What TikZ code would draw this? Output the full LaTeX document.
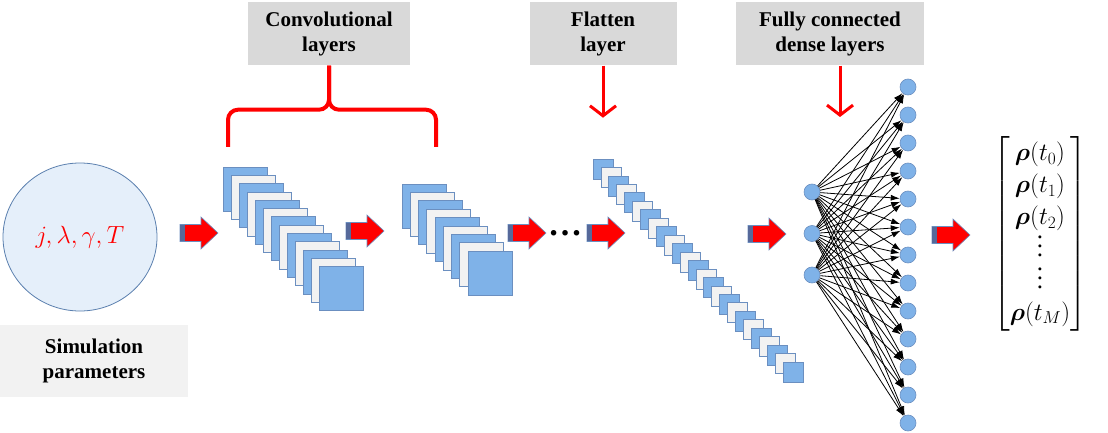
\documentclass[tikz,border=0pt]{standalone}
\usepackage{amsmath}
\usepackage{fontspec}
\setmainfont{Liberation Serif}
\newfontfamily\lblfont{Liberation Serif Bold}
\usetikzlibrary{arrows.meta,shapes.geometric}

\definecolor{fmblue}{HTML}{7FB2E8}
\definecolor{fmgrey}{HTML}{F2F2F2}
\definecolor{fmline}{HTML}{6B8FC0}
\definecolor{lblgrey}{HTML}{D9D9D9}
\definecolor{ellfill}{HTML}{E5EFFA}
\definecolor{ellline}{HTML}{5A7FAE}
\definecolor{stripe}{HTML}{56699A}

\newcommand{\tallvdots}{\vbox{\baselineskip=9pt \lineskiplimit=0pt
  \hbox{\normalfont .}\hbox{\normalfont .}\hbox{\normalfont .}}}

\tikzset{
  lbl/.style={fill=lblgrey, minimum width=#1, minimum height=63, inner sep=0,
    align=center, font=\fontsize{21}{25}\selectfont\lblfont},
  fmap/.style={draw=fmline, line width=0.8},
  neuron/.style={circle, fill=fmblue, draw=fmline, line width=0.6, minimum size=16, inner sep=0},
  edge/.style={-{Latex[length=9,width=6]}, line width=0.8},
  redbrace/.style={red, line width=4, rounded corners=10},
  downarrow/.style={red, line width=3, -{Straight Barb[length=10,width=26]}},
  redarrow/.pic={
    \filldraw[red, draw=fmline, line width=0.6] (0,-8.5) -- (21,-8.5) -- (21,-16)
      -- (38,0) -- (21,16) -- (21,8.5) -- (0,8.5) -- cycle;
    \fill[stripe] (0.3,-8.2) rectangle (5,8.2);
  }
}

\begin{document}
\begin{tikzpicture}[x=1pt,y=-1pt]
    \useasboundingbox (0,0) rectangle (1108,433);

    % labels
    \node[lbl=162] (conv) at (329,34) {Convolutional\\layers};
    \node[lbl=147] (flat) at (603,34) {Flatten\\layer};
    \node[lbl=188] (dense) at (830,34) {Fully connected\\dense layers};
    \node[lbl=188, fill=fmgrey, minimum height=72] (sim) at (94,361) {Simulation\\parameters};

    % input
    \node[ellipse, fill=ellfill, draw=ellline, line width=0.8, minimum width=154, minimum height=148,
      text=red, font=\fontsize{26}{30}\selectfont] (params) at (80,237) {$j,\lambda,\gamma,T$};

    % feature maps
    \foreach \k in {0,...,12}{
      \ifodd\k\relax \def\fc{fmgrey}\else \def\fc{fmblue}\fi
      \filldraw[fmap, fill=\fc] (223+8*\k,167+8.3*\k) rectangle ++(44,44);
    }
    \foreach \k in {0,...,8}{
      \ifodd\k\relax \def\fc{fmgrey}\else \def\fc{fmblue}\fi
      \filldraw[fmap, fill=\fc] (402+8.25*\k,184+8.4*\k) rectangle ++(44,44);
    }
    \foreach \k in {0,...,24}{
      \ifodd\k\relax \def\fc{fmgrey}\else \def\fc{fmblue}\fi
      \filldraw[fmap, fill=\fc] (593+7.92*\k,159+8.46*\k) rectangle ++(20,20);
    }
    \node[font=\fontsize{34}{36}\selectfont\lblfont, inner sep=0] (dots) at (565,233) {…};

    % brace and pointers
    \coordinate (bl) at (228,147);
    \coordinate (br) at (436,147);
    \draw[redbrace] (bl) |- ([yshift=-44]conv.south) -- (conv.south);
    \draw[redbrace] (br) |- ([yshift=-44]conv.south) -- (conv.south);
    \coordinate (fltip) at ([yshift=-52]flat.south);
    \coordinate (dtip) at (840,117);
    \draw[downarrow] (flat.south) -- (fltip);
    \draw[downarrow] (dtip |- dense.south) -- (dtip);

    % block arrows
    \pic at (180,233) {redarrow};
    \pic at (346,231) {redarrow};
    \pic at (508,233) {redarrow};
    \pic at (587,233) {redarrow};
    \pic at (748,234) {redarrow};
    \pic at (932,235) {redarrow};

    % dense layers
    \foreach \i in {1,2,3}
      \node[neuron] (in\i) at (812,192+41.5*\i-41.5) {};
    \foreach \j in {1,...,13}
      \node[neuron] (out\j) at (908,87+28*\j-28) {};
    \foreach \i in {1,2,3}
      \foreach \j in {1,...,13}
        \draw[edge] (in\i) -- (out\j);

    % output
    \node[font=\fontsize{25}{29}\selectfont, inner sep=0] (rho) at (1040,234)
      {$\renewcommand{\arraystretch}{1.1}\setlength{\arraycolsep}{11pt}\begin{bmatrix}
        \boldsymbol{\rho}(t_0)\\ \boldsymbol{\rho}(t_1)\\ \boldsymbol{\rho}(t_2)\\
        \tallvdots\\ \tallvdots\\ \boldsymbol{\rho}(t_M)
      \end{bmatrix}$};
  \end{tikzpicture}
\end{document}
